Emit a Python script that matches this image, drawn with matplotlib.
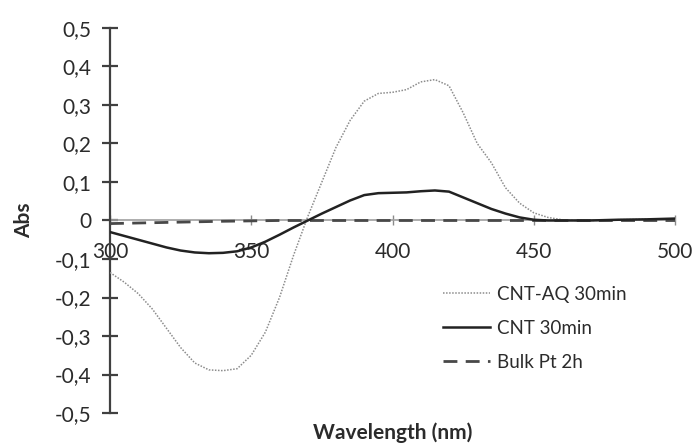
import matplotlib
matplotlib.use('Agg')
import matplotlib.pyplot as plt
from matplotlib.ticker import FuncFormatter, MultipleLocator

plt.rcParams['font.family'] = ['Lato', 'DejaVu Sans']
plt.rcParams['text.color'] = '#2b2b2b'

# wavelength grid (nm)
wl = [300, 305, 310, 315, 320, 325, 330, 335, 340, 345, 350, 355, 360, 365,
      370, 375, 380, 385, 390, 395, 400, 405, 410, 415, 420, 425, 430, 435,
      440, 445, 450, 455, 460, 465, 470, 480, 490, 500]

cnt_aq = [-0.135, -0.16, -0.19, -0.23, -0.28, -0.33, -0.37, -0.388, -0.39, -0.385,
          -0.35, -0.29, -0.20, -0.09, 0.01, 0.10, 0.19, 0.26, 0.31, 0.33,
          0.333, 0.34, 0.36, 0.366, 0.35, 0.28, 0.20, 0.15, 0.085, 0.045,
          0.02, 0.008, 0.002, 0.0, 0.0, 0.002, 0.003, 0.004]

cnt = [-0.03, -0.04, -0.05, -0.06, -0.07, -0.078, -0.083, -0.085, -0.084, -0.08,
       -0.07, -0.055, -0.037, -0.018, 0.0, 0.018, 0.035, 0.052, 0.066, 0.071,
       0.072, 0.073, 0.076, 0.078, 0.075, 0.06, 0.045, 0.03, 0.018, 0.008,
       0.002, 0.0, 0.0, 0.0, 0.0, 0.002, 0.003, 0.005]

wl_pt = [300, 320, 340, 360, 400, 450, 500]
bulk_pt = [-0.008, -0.005, -0.002, 0.0, 0.0, 0.0, 0.0]

fig = plt.figure(figsize=(6.96, 4.48), dpi=100)
ax = fig.add_axes([110 / 696, 1 - 413 / 448, 565 / 696, 385 / 448])

ax.plot(wl, cnt_aq, color='#8c8c8c', lw=1.1, linestyle=(0, (1, 1)), label='CNT-AQ 30min', zorder=3)
ax.plot(wl, cnt, color='#222222', lw=1.8, label='CNT 30min', zorder=4)
ax.plot(wl_pt, bulk_pt, color='#484848', lw=2.0, linestyle=(0, (5, 3)), label='Bulk Pt 2h', zorder=3)

ax.set_xlim(300, 500)
ax.set_ylim(-0.5, 0.5)
ax.xaxis.set_major_locator(MultipleLocator(50))
ax.yaxis.set_major_locator(MultipleLocator(0.1))

def comma_fmt(v, pos):
    if abs(v) < 1e-9:
        return '0'
    return f'{v:.1f}'.replace('.', ',')

ax.yaxis.set_major_formatter(FuncFormatter(comma_fmt))

ax.spines['top'].set_visible(False)
ax.spines['right'].set_visible(False)
ax.spines['bottom'].set_position(('data', 0))
ax.spines['bottom'].set_color('#a0a0a0')
ax.spines['bottom'].set_linewidth(1.2)
ax.spines['bottom'].set_zorder(2)
ax.spines['left'].set_color('#404040')
ax.spines['left'].set_linewidth(1.6)

ax.tick_params(axis='y', direction='inout', length=11, width=1.6, color='#404040',
               labelsize=15, labelcolor='#2b2b2b', pad=8)
ax.tick_params(axis='x', direction='inout', length=7, width=1.0, color='#8a8a8a',
               labelsize=15, labelcolor='#2b2b2b', pad=12)

ax.set_ylabel('Abs', fontsize=15, fontweight='bold', color='#2b2b2b')
ax.yaxis.set_label_coords(-0.135, 0.5)
ax.set_xlabel('Wavelength (nm)', fontsize=15, fontweight='bold', color='#2b2b2b', va='center')
ax.xaxis.set_label_coords(0.5, -0.052)

ax.legend(loc='upper left', bbox_to_anchor=(443 / 696, 1 - 286 / 448),
          bbox_transform=fig.transFigure, frameon=False, fontsize=13.5,
          handlelength=2.5, handletextpad=0.4, labelspacing=0.9,
          borderpad=0, borderaxespad=0)

fig.savefig('out.png', dpi=100)
